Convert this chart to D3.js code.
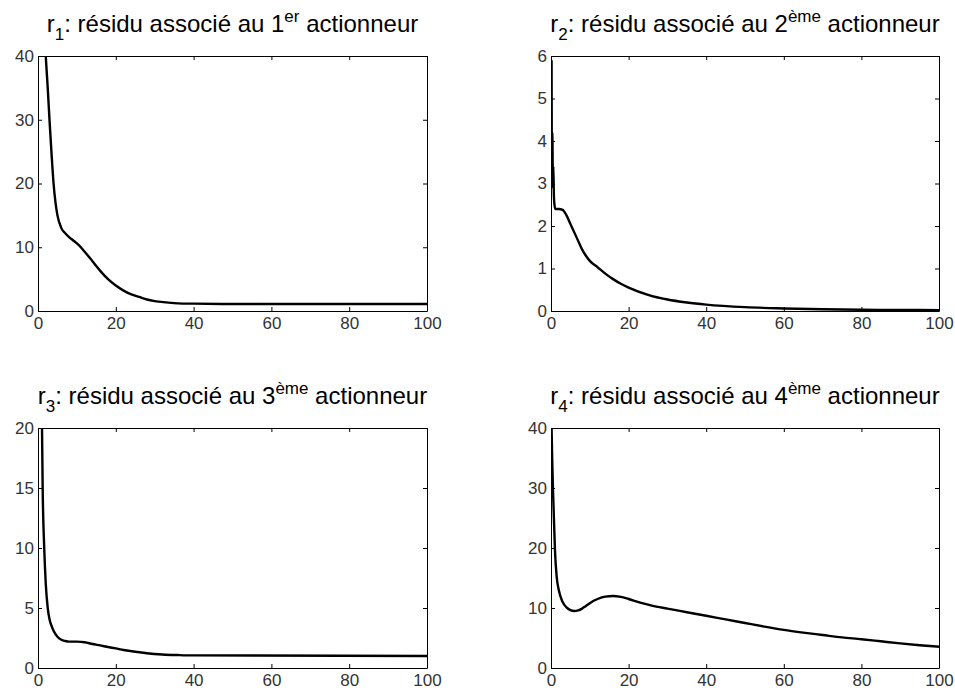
<!DOCTYPE html>
<html>
<head>
<meta charset="utf-8">
<script src="https://cdn.jsdelivr.net/npm/d3@7"></script>
<style>
body { margin: 0; background: #fff; }
svg { display: block; font-family: Arial, "Liberation Sans", sans-serif; }
.axis path, .axis line { stroke: #000; }
.axis text { fill: #333; }
.curve { fill: none; stroke: #000; stroke-width: 2.4px; stroke-linejoin: round; }
.title { font-size: 24px; fill: #000; }
</style>
</head>
<body>
<svg id="fig" width="955" height="693"></svg>
<script>
// values
var xTicks = [0, 20, 40, 60, 80, 100];

var t1 = [0, 1, 2, 2.5, 3, 3.5, 4, 4.5, 5, 6, 7, 8, 9, 10, 11, 12, 14, 16, 18, 20, 22, 24, 26, 28, 30, 33, 36, 40, 50, 60, 80, 100];
var r1 = [80, 55, 40, 35, 29.5, 24.5, 20, 17, 15, 13, 12.2, 11.6, 11.1, 10.6, 10.0, 9.3, 7.8, 6.3, 5.0, 4.0, 3.2, 2.6, 2.2, 1.8, 1.55, 1.35, 1.2, 1.15, 1.1, 1.1, 1.1, 1.1];
var yTicks1 = [0, 10, 20, 30, 40];

var t2 = [0.15, 0.25, 0.35, 0.5, 0.6, 0.75, 0.9, 1.1, 2, 3, 4, 5, 6, 7, 8, 9, 10, 12, 14, 16, 18, 20, 25, 30, 35, 40, 50, 60, 70, 80, 90, 100];
var r2 = [5.9, 3.0, 4.2, 2.9, 3.4, 2.7, 2.5, 2.4, 2.4, 2.38, 2.25, 2.05, 1.85, 1.65, 1.45, 1.3, 1.18, 1.03, 0.88, 0.75, 0.64, 0.55, 0.38, 0.27, 0.2, 0.15, 0.09, 0.06, 0.04, 0.03, 0.025, 0.02];
var yTicks2 = [0, 1, 2, 3, 4, 5, 6];

var t3 = [0, 0.5, 1, 1.2, 1.6, 2, 2.5, 3, 3.5, 4, 5, 6, 7, 8, 10, 12, 14, 16, 18, 20, 22, 25, 28, 32, 36, 40, 100];
var r3 = [40, 28, 21, 15, 10, 7, 5, 4.0, 3.5, 3.1, 2.6, 2.35, 2.25, 2.2, 2.2, 2.15, 2.0, 1.88, 1.75, 1.63, 1.5, 1.35, 1.23, 1.13, 1.08, 1.05, 1.0];
var yTicks3 = [0, 5, 10, 15, 20];

var t4 = [0.15, 0.3, 0.5, 0.8, 1, 1.5, 2, 3, 4, 5, 6, 7, 8, 9, 10, 11, 12, 14, 16, 18, 20, 23, 26, 30, 35, 40, 45, 50, 55, 60, 65, 70, 75, 80, 85, 90, 95, 100];
var r4 = [40, 35, 30, 24, 20, 15, 13, 11.0, 10.1, 9.65, 9.5, 9.6, 9.9, 10.35, 10.8, 11.2, 11.5, 11.9, 12.0, 11.85, 11.5, 10.9, 10.4, 9.9, 9.3, 8.7, 8.1, 7.5, 6.9, 6.35, 5.9, 5.5, 5.1, 4.8, 4.45, 4.1, 3.8, 3.55];
var yTicks4 = [0, 10, 20, 30, 40];

var numbers = ["1", "2", "3", "4"];
var ordinals = ["er", "ème", "ème", "ème"];

// layout of the four axes
var boxes = [
  {x0: 38, x1: 427, y0: 56, y1: 311},
  {x0: 551, x1: 939, y0: 56, y1: 311},
  {x0: 38, x1: 427, y0: 428, y1: 668},
  {x0: 551, x1: 939, y0: 428, y1: 668}
];

var panels = [
  {t: t1, r: r1, yTicks: yTicks1},
  {t: t2, r: r2, yTicks: yTicks2},
  {t: t3, r: r3, yTicks: yTicks3},
  {t: t4, r: r4, yTicks: yTicks4}
];

var svg = d3.select("#fig");

// d3 puts its own font attributes on each axis group; replace them
function styleAxis(sel) {
  sel.attr("font-family", "Arial, 'Liberation Sans', sans-serif")
     .attr("font-size", 17);
}

panels.forEach(function(p, i) {
  var b = boxes[i];
  var x = d3.scaleLinear().domain([0, 100]).range([b.x0, b.x1]);
  var y = d3.scaleLinear().domain([0, d3.max(p.yTicks)]).range([b.y1, b.y0]);

  var g = svg.append("g");

  g.append("clipPath")
      .attr("id", "clip" + i)
    .append("rect")
      .attr("x", b.x0)
      .attr("y", b.y0)
      .attr("width", b.x1 - b.x0)
      .attr("height", b.y1 - b.y0);

  var line = d3.line()
      .x(function(d) { return x(d[0]); })
      .y(function(d) { return y(d[1]); })
      .curve(d3.curveMonotoneX);

  g.append("path")
      .attr("class", "curve")
      .attr("clip-path", "url(#clip" + i + ")")
      .attr("d", line(d3.zip(p.t, p.r)));

  // inward ticks on all four sides, labels only bottom and left
  g.append("g")
      .attr("class", "axis")
      .attr("transform", "translate(0," + b.y1 + ")")
      .call(d3.axisBottom(x).tickValues(xTicks).tickSizeInner(-4).tickSizeOuter(0).tickPadding(4))
      .call(styleAxis)
      .selectAll("text").attr("dy", "0.85em");

  g.append("g")
      .attr("class", "axis")
      .attr("transform", "translate(0," + b.y0 + ")")
      .call(d3.axisTop(x).tickValues(xTicks).tickSizeInner(-4).tickSizeOuter(0).tickFormat(""));

  g.append("g")
      .attr("class", "axis")
      .attr("transform", "translate(" + b.x0 + ",0)")
      .call(d3.axisLeft(y).tickValues(p.yTicks).tickFormat(d3.format("d"))
        .tickSizeInner(-4).tickSizeOuter(0).tickPadding(4))
      .call(styleAxis);

  g.append("g")
      .attr("class", "axis")
      .attr("transform", "translate(" + b.x1 + ",0)")
      .call(d3.axisRight(y).tickValues(p.yTicks).tickSizeInner(-4).tickSizeOuter(0).tickFormat(""));

  var title = g.append("text")
      .attr("class", "title")
      .attr("x", (b.x0 + b.x1) / 2)
      .attr("y", b.y0 - 24)
      .attr("text-anchor", "middle");
  title.append("tspan").text("r");
  title.append("tspan").attr("dy", 8).style("font-size", "17px").text(numbers[i]);
  title.append("tspan").attr("dy", -8).text(": résidu associé au " + numbers[i]);
  title.append("tspan").attr("dy", -10).style("font-size", "17px").text(ordinals[i]);
  title.append("tspan").attr("dy", 10).text(" actionneur");
});
</script>
</body>
</html>
